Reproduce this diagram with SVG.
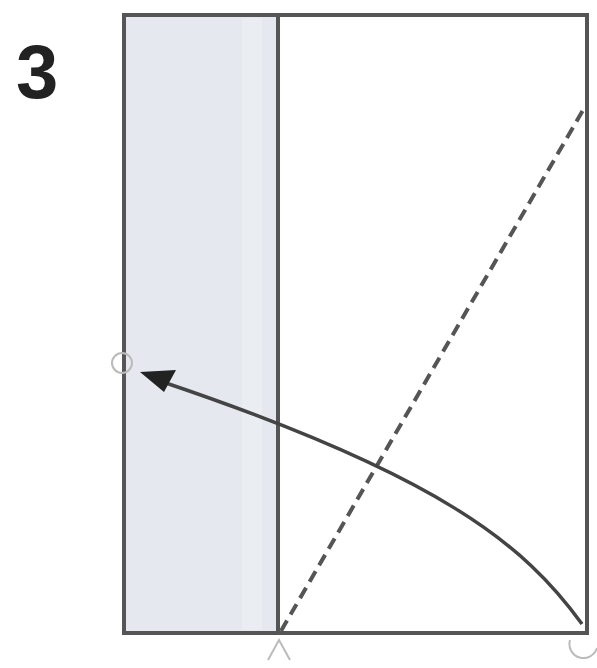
<svg xmlns="http://www.w3.org/2000/svg" width="597" height="668" viewBox="0 0 597 668">
<style>
.edge{fill:none;stroke:#555;stroke-width:4}
.crease{fill:none;stroke:#555;stroke-width:4;stroke-dasharray:12 7}
.arrow{fill:none;stroke:#444;stroke-width:3.5}
.faint{fill:none;stroke:#bbb;stroke-width:2}
.num{font-family:"Liberation Sans",Arial,sans-serif;font-weight:bold;font-size:76px;fill:#222}
</style>
<rect width="597" height="668" fill="#fff"/>
<text class="num" x="16" y="98">3</text>
<g id="paper">
<rect x="125" y="15" width="153" height="617" fill="#e5e9ef"/>
<rect x="242" y="18" width="20" height="612" fill="#eaedf2"/>
<rect class="edge" x="124" y="15" width="463" height="618"/>
<line class="edge" x1="278" y1="15" x2="278" y2="633"/>
</g>
<g id="connectors">
<line class="crease" x1="281" y1="631" x2="586" y2="105"/>
<path class="arrow" d="M582,624 C525,545 440,475 160,381"/>
<path d="M140,372 L176,370 L164,392 Z" fill="#222"/>
</g>
<g id="marks">
<circle class="faint" cx="122" cy="363" r="10" stroke="#999"/>
<path class="faint" d="M570,640 A14,14 0 0 0 597,648"/>
<path class="faint" d="M268,660 L279,640 L290,660"/>
</g>
</svg>
